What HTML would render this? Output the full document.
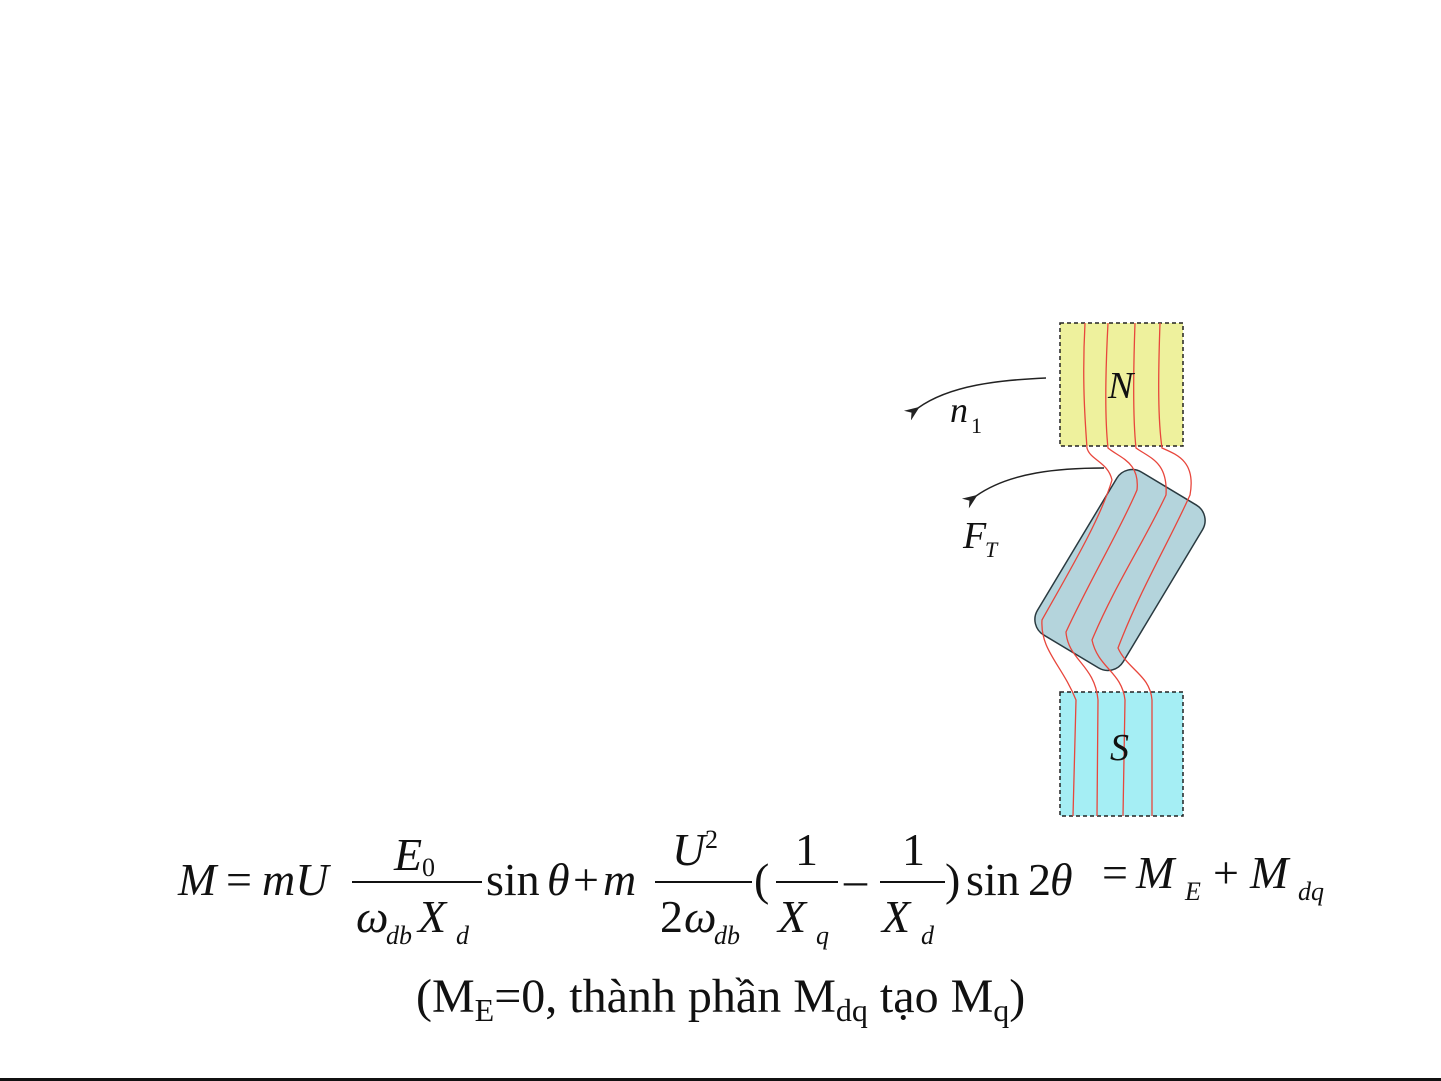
<!DOCTYPE html>
<html><head><meta charset="utf-8"><style>
html,body{margin:0;padding:0;background:#fff;}
svg{display:block;}
text{font-family:"Liberation Serif",serif;fill:#111;}
.i{font-style:italic;}
</style></head><body>
<svg width="1441" height="1081" viewBox="0 0 1441 1081" xmlns="http://www.w3.org/2000/svg">
<defs>
<marker id="ah" markerWidth="16" markerHeight="12" refX="2" refY="6" orient="auto" markerUnits="userSpaceOnUse">
<path d="M15,0 L0,6 L15,12 L10,6 Z" fill="#222"/>
</marker>
</defs>
<rect x="1060" y="323" width="123" height="123" fill="#eef19d" stroke="#222" stroke-width="1.5" stroke-dasharray="4,3"/>
<rect x="1060" y="692" width="123" height="124" fill="#a5eef4" stroke="#222" stroke-width="1.5" stroke-dasharray="4,3"/>
<rect x="1070" y="475" width="100" height="190" rx="18" fill="#b4d4dc" stroke="#2a3a40" stroke-width="1.5" transform="rotate(31 1120 570)"/>
<g fill="none" stroke="#e8463c" stroke-width="1.3">
<path d="M1085,323 C1082,380 1085,420 1087,448 C1090,460 1108,462 1112,480 C1100,520 1070,570 1042,620 C1040,650 1062,665 1076,700 L1073,816"/>
<path d="M1108,323 C1105,380 1105,420 1108,448 C1120,458 1140,462 1137,490 C1120,530 1090,580 1066,632 C1068,660 1095,665 1098,700 L1097,816"/>
<path d="M1135,323 C1133,380 1133,420 1136,448 C1150,458 1168,462 1166,495 C1145,540 1115,585 1092,640 C1098,668 1122,672 1125,700 L1123,816"/>
<path d="M1160,323 C1158,380 1158,420 1162,448 C1178,455 1196,462 1190,495 C1170,540 1140,590 1118,648 C1128,670 1150,675 1152,700 L1152,816"/>
</g>
<path d="M1046,378 C1000,380 950,385 918,408" fill="none" stroke="#222" stroke-width="1.5" marker-end="url(#ah)"/>
<path d="M1104,468 C1060,468 1010,472 976,496" fill="none" stroke="#222" stroke-width="1.5" marker-end="url(#ah)"/>
<text x="1108" y="398" class="i" font-size="38">N</text>
<text x="950" y="422" class="i" font-size="36">n</text>
<text x="971" y="433" font-size="22">1</text>
<text x="963" y="548" class="i" font-size="38">F</text>
<text x="985" y="557" class="i" font-size="22">T</text>
<text x="1110" y="760" class="i" font-size="38">S</text>
<g font-size="46">
<text x="178" y="895" class="i">M</text>
<text x="226" y="895">=</text>
<text x="262" y="895" class="i">mU</text>
<line x1="352" y1="882" x2="482" y2="882" stroke="#111" stroke-width="2"/>
<text x="394" y="870" class="i">E</text>
<text x="422" y="876" font-size="26">0</text>
<text x="356" y="932" class="i">ω</text>
<text x="386" y="944" class="i" font-size="26">db</text>
<text x="418" y="932" class="i">X</text>
<text x="456" y="944" class="i" font-size="26">d</text>
<text x="486" y="895">sin</text>
<text x="547" y="895" class="i">θ</text>
<text x="573" y="895">+</text>
<text x="603" y="895" class="i">m</text>
<line x1="655" y1="882" x2="752" y2="882" stroke="#111" stroke-width="2"/>
<text x="672" y="865" class="i">U</text>
<text x="705" y="848" font-size="26">2</text>
<text x="660" y="932">2</text>
<text x="684" y="932" class="i">ω</text>
<text x="714" y="944" class="i" font-size="26">db</text>
<text x="754" y="895">(</text>
<line x1="776" y1="882" x2="838" y2="882" stroke="#111" stroke-width="2"/>
<text x="795" y="865">1</text>
<text x="778" y="932" class="i">X</text>
<text x="816" y="944" class="i" font-size="26">q</text>
<text x="844" y="895">–</text>
<line x1="880" y1="882" x2="945" y2="882" stroke="#111" stroke-width="2"/>
<text x="902" y="865">1</text>
<text x="882" y="932" class="i">X</text>
<text x="921" y="944" class="i" font-size="26">d</text>
<text x="945" y="895">)</text>
<text x="966" y="895">sin</text>
<text x="1028" y="895">2</text>
<text x="1050" y="895" class="i">θ</text>
<text x="1102" y="888">=</text>
<text x="1136" y="888" class="i">M</text>
<text x="1185" y="900" class="i" font-size="26">E</text>
<text x="1213" y="888">+</text>
<text x="1250" y="888" class="i">M</text>
<text x="1298" y="900" class="i" font-size="26">dq</text>
</g>
<text x="416" y="1012" font-size="48">(M<tspan font-size="32" dy="9">E</tspan><tspan dy="-9">=0, thành phần M</tspan><tspan font-size="32" dy="9">dq</tspan><tspan dy="-9"> tạo M</tspan><tspan font-size="32" dy="9">q</tspan><tspan dy="-9">)</tspan></text>
<rect x="0" y="1078" width="1441" height="3" fill="#111"/>
</svg>
</body></html>
